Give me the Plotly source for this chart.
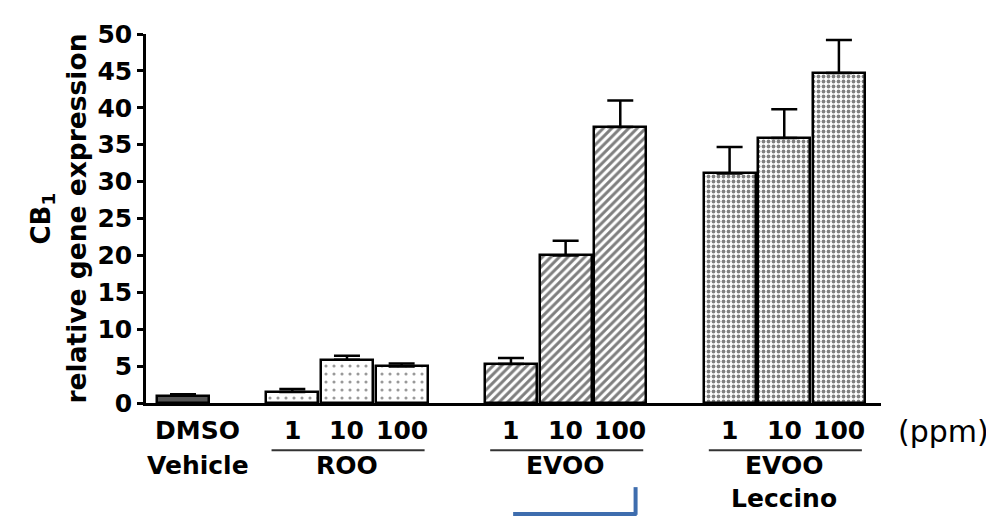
import plotly.graph_objects as go

# ---- data ----
positions = [0, 2, 3, 4, 6, 7, 8, 10, 11, 12]
dose_labels = ["DMSO", "1", "10", "100", "1", "10", "100", "1", "10", "100"]
values = [1.0, 1.5, 5.85, 4.95, 5.3, 20.0, 37.4, 31.1, 35.9, 44.7]
errors = [0.2, 0.4, 0.55, 0.4, 0.8, 2.0, 3.6, 3.6, 3.9, 4.5]
# group name -> indices of bars in the group
groups = {
    "Vehicle": [0],
    "ROO": [1, 2, 3],
    "EVOO": [4, 5, 6],
    "EVOO<br>Leccino": [7, 8, 9],
}
y_ticks = [0, 5, 10, 15, 20, 25, 30, 35, 40, 45, 50]

FONT = "DejaVu Sans"

fig = go.Figure()

def add_bars(idx, fill, pattern):
    fig.add_trace(go.Bar(
        x=[positions[i] for i in idx],
        y=[values[i] for i in idx],
        width=0.95,
        marker=dict(color=fill, line=dict(color="black", width=2.5), pattern=pattern),
        error_y=dict(type="data", symmetric=False,
                     array=[errors[i] for i in idx],
                     arrayminus=[0] * len(idx),
                     color="black", thickness=2.5, width=13),
        showlegend=False,
    ))

add_bars(groups["Vehicle"], "#555555", dict(shape=""))
add_bars(groups["ROO"], "white", dict(shape=".", fgcolor="#333333", bgcolor="white", size=8, solidity=0.12))
add_bars(groups["EVOO"], "white", dict(shape="/", fgcolor="black", bgcolor="white", size=6, solidity=0.5))
add_bars(groups["EVOO<br>Leccino"], "white", dict(shape=".", fgcolor="black", bgcolor="white", size=5, solidity=0.45))

ann = []
for p, lab in zip(positions, dose_labels):
    ann.append(dict(x=p + (0.27 if lab == "DMSO" else 0), y=-0.075, xref="x", yref="paper",
                    text=lab, showarrow=False, yanchor="middle",
                    font=dict(family=FONT, size=25, color="black", weight="bold")))
# (ppm) placed in paper coords (right of the plot area)
ann.append(dict(x=1.0 + (943 - 881) / 735, y=-0.0785, xref="paper", yref="paper", text="(ppm)",
                showarrow=False, xanchor="center", yanchor="middle",
                font=dict(family=FONT, size=30, color="black")))

shapes = []
for name, idx in groups.items():
    xs = [positions[i] for i in idx]
    cx = sum(xs) / len(xs)
    if name == "Vehicle":
        ann.append(dict(x=cx + 0.27, y=-0.170, xref="x", yref="paper", text=name, showarrow=False,
                        yanchor="middle", font=dict(family=FONT, size=25, color="black", weight="bold")))
        continue
    shapes.append(dict(type="line", xref="x", yref="paper", x0=xs[0] - 0.38, x1=xs[-1] + 0.42,
                       y0=-0.128, y1=-0.128, line=dict(color="#333333", width=2)))
    for k, t in enumerate(name.split("<br>")):
        ann.append(dict(x=cx, y=-0.170 - 0.089 * k, xref="x", yref="paper", text=t, showarrow=False,
                        yanchor="middle", font=dict(family=FONT, size=25, color="black", weight="bold")))

# blue bracket under EVOO
ev = [positions[i] for i in groups["EVOO"]]
shapes.append(dict(type="line", xref="x", yref="paper", x0=ev[0] + 0.04, x1=ev[-1] + 0.3,
                   y0=-0.301, y1=-0.301, line=dict(color="#3E6DAE", width=4)))
shapes.append(dict(type="line", xref="x", yref="paper", x0=ev[-1] + 0.28, x1=ev[-1] + 0.28,
                   y0=-0.228, y1=-0.303, line=dict(color="#3E6DAE", width=4)))

# y-axis title
ann.append(dict(x=(42 - 146) / 735, y=0.5, xref="paper", yref="paper", text="CB<sub>1</sub>",
                textangle=-90, showarrow=False, xanchor="center", yanchor="middle",
                font=dict(family=FONT, size=26, color="black", weight="bold")))
ann.append(dict(x=(76 - 146) / 735, y=0.5, xref="paper", yref="paper", text="relative gene expression",
                textangle=-90, showarrow=False, xanchor="center", yanchor="middle",
                font=dict(family=FONT, size=26.5, color="black", weight="bold")))

# page body has an 8px margin: shrink the figure and margins so the plot lands where the reference has it
fig.update_layout(
    width=986, height=514,
    margin=dict(l=138, r=113, t=13, b=119),
    paper_bgcolor="white", plot_bgcolor="white",
    bargap=0,
    annotations=ann, shapes=shapes,
    xaxis=dict(range=[-0.677, 12.77], showline=True, linecolor="black", linewidth=2.5,
               showticklabels=False, ticks="", showgrid=False, zeroline=False, fixedrange=True),
    yaxis=dict(range=[0, 50], tickvals=y_ticks, showline=True, linecolor="black", linewidth=2.5,
               ticks="outside", ticklen=6, tickwidth=2.5, tickcolor="black",
               showgrid=False, zeroline=False, ticklabeloverflow="allow",
               tickfont=dict(family=FONT, size=25, color="black", weight="bold")),
)

fig.write_html("out.html")
